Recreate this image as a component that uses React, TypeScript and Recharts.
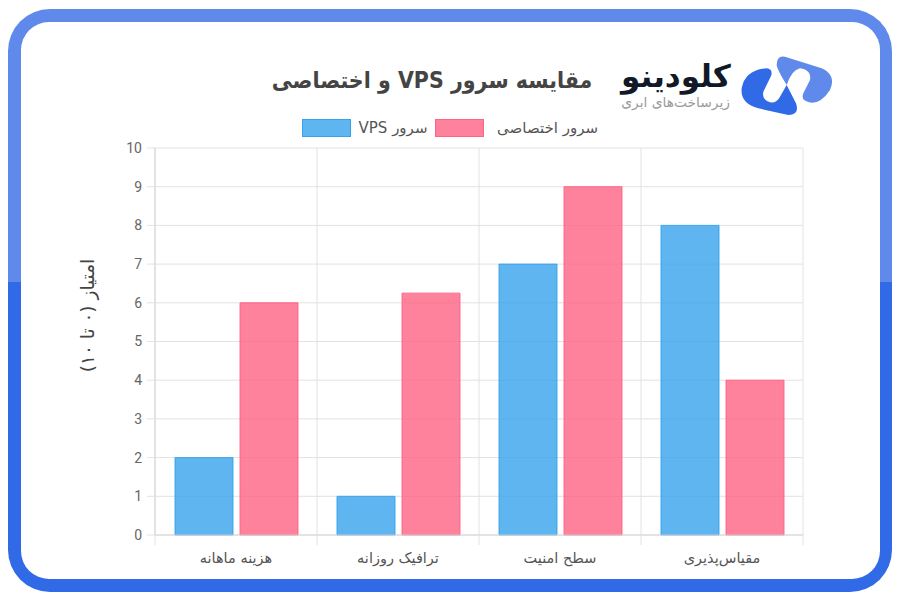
import { BarChart, Bar, XAxis, YAxis, CartesianGrid, Label } from 'recharts'

const categories = ['هزینه ماهانه', 'ترافیک روزانه', 'سطح امنیت', 'مقیاس‌پذیری']
const vpsValues = [2, 1, 7, 8]
const dedicatedValues = [6, 6.25, 9, 4]
const yTicks = [0, 1, 2, 3, 4, 5, 6, 7, 8, 9, 10]

const data = categories.map((name, i) => ({
    name,
    vps: vpsValues[i],
    dedicated: dedicatedValues[i],
}))

const FONT = '"DejaVu Sans", sans-serif'
const GRID = '#e2e2e2'
const PLOT_WIDTH = 648

function CategoryTick({ x, y, payload, index }: any) {
    const band = PLOT_WIDTH / categories.length
    return (
        <g>
            <line x1={x - band / 2} x2={x - band / 2} y1={y - 8} y2={y + 2} stroke={GRID} />
            {index === categories.length - 1 && (
                <line x1={x + band / 2} x2={x + band / 2} y1={y - 8} y2={y + 2} stroke={GRID} />
            )}
            <text x={x} y={y + 20} textAnchor="middle" direction="rtl" fontSize={14.5} fill="#555" fontFamily={FONT}>
                {payload.value}
            </text>
        </g>
    )
}

function ChartLegend() {
    const box = (bg: string, border: string) => (
        <span style={{ display: 'inline-block', width: 47, height: 16, background: bg, border: `1px solid ${border}` }} />
    )
    return (
        <div dir="ltr" style={{ display: 'flex', alignItems: 'center', position: 'absolute', left: 302, top: 119, fontFamily: FONT, fontSize: 15, color: '#555', whiteSpace: 'nowrap' }}>
            {box('#5eb5ef', '#36a2eb')}
            <span dir="rtl" style={{ width: 84, textAlign: 'center' }}>سرور VPS</span>
            {box('#ff829d', '#ff6384')}
            <span dir="rtl" style={{ width: 114, textAlign: 'right' }}>سرور اختصاصی</span>
        </div>
    )
}

function AxisTitle({ viewBox }: any) {
    const cy = viewBox.y + viewBox.height / 2 - 26
    return (
        <text x={87} y={cy} transform={`rotate(-90 87 ${cy})`} textAnchor="middle" dominantBaseline="central" direction="rtl" fontSize={18.5} fill="#444" fontFamily={FONT}>
            امتیاز (۰ تا ۱۰)
        </text>
    )
}

function Logo() {
    return (
        <>
            <svg width={105} height={70} viewBox="0 0 315 210" style={{ position: 'absolute', left: 735, top: 50 }}>
                <path d="M150 20 Q125 15 125 45 Q126 58 155 105 Q170 60 195 55 Q230 60 225 90 L205 130 Q195 150 222 157 Q255 165 285 120 Q305 75 260 55 Z" fill="#5f8aec" />
                <path d="M95 55 Q115 58 108 78 L85 125 Q80 150 105 157 Q125 160 135 140 L155 105 L183 160 Q195 195 160 195 L70 175 Q15 160 20 115 Q30 60 95 55 Z" fill="#306ae6" />
            </svg>
            <div dir="rtl" style={{ position: 'absolute', left: 618, top: 56, width: 116, textAlign: 'center', fontFamily: FONT, fontWeight: 700, fontSize: 31, lineHeight: '40px', color: '#111827', whiteSpace: 'nowrap' }}>
                کلودینو
            </div>
            <div dir="rtl" style={{ position: 'absolute', left: 618, top: 92, width: 112, textAlign: 'right', fontFamily: FONT, fontSize: 13.8, lineHeight: '20px', color: '#9a9a9a', whiteSpace: 'nowrap' }}>
                زیرساخت‌های ابری
            </div>
        </>
    )
}

export default function App() {
    return (
        <div style={{ position: 'fixed', left: 0, top: 0, width: 900, height: 600, background: '#fff', overflow: 'hidden' }}>
            <div style={{ position: 'absolute', left: 8, top: 9, width: 884, height: 583, borderRadius: 42, overflow: 'hidden', background: 'linear-gradient(#5f8aec 0, #5f8aec 273px, #306ae6 273px)' }} />
            <div style={{ position: 'absolute', left: 21, top: 22, width: 859, height: 557, borderRadius: 28, background: '#fff' }} />
            <div dir="rtl" style={{ position: 'absolute', left: 232, top: 62, width: 400, textAlign: 'center', fontFamily: FONT, fontWeight: 700, fontSize: 23, lineHeight: '36px', color: '#444', whiteSpace: 'nowrap', transform: 'scaleX(0.895)' }}>
                مقایسه سرور VPS و اختصاصی
            </div>
            <Logo />
            <div style={{ position: 'absolute', left: 0, top: 0 }}>
                <BarChart
                    width={900}
                    height={600}
                    data={data}
                    margin={{ top: 148, right: 97, bottom: 0, left: 75 }}
                    barSize={58}
                    barGap={7}
                >
                    <CartesianGrid
                        stroke={GRID}
                        verticalCoordinatesGenerator={({ offset }: any) =>
                            [0, 1, 2, 3, 4].map((i) => offset.left + (i * offset.width) / categories.length)
                        }
                    />
                    <XAxis
                        dataKey="name"
                        axisLine={{ stroke: '#d5d5d5' }}
                        tickLine={false}
                        tick={<CategoryTick />}
                        height={65}
                        interval={0}
                    />
                    <YAxis
                        type="number"
                        domain={[0, 10]}
                        ticks={yTicks}
                        interval={0}
                        width={80}
                        axisLine={{ stroke: '#d5d5d5' }}
                        tickLine={{ stroke: GRID }}
                        tickSize={8}
                        tickMargin={5}
                        tick={{ fontSize: 14, fill: '#666', fontFamily: 'Roboto' }}
                    >
                        <Label content={<AxisTitle />} />
                    </YAxis>
                    <Bar dataKey="vps" name="سرور VPS" fill="rgba(54,162,235,0.8)" stroke="rgba(54,162,235,0.9)" isAnimationActive={false} />
                    <Bar dataKey="dedicated" name="سرور اختصاصی" fill="rgba(255,99,132,0.8)" stroke="rgba(255,99,132,0.9)" isAnimationActive={false} />
                </BarChart>
            </div>
            <ChartLegend />
        </div>
    )
}
